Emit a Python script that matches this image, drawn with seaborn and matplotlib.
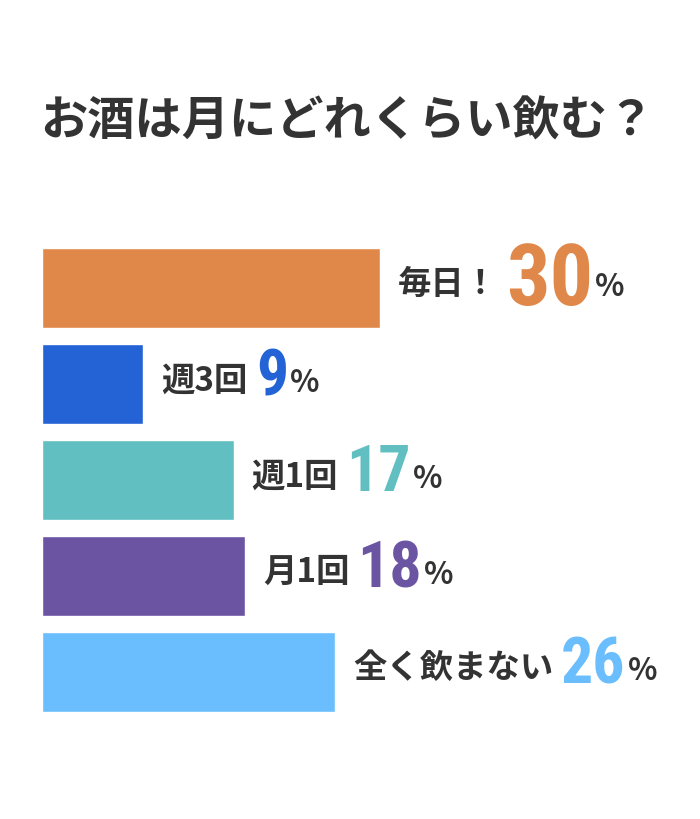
import matplotlib
matplotlib.use("Agg")
import matplotlib.pyplot as plt
import seaborn as sns
import pandas as pd

categories = ["毎日！", "週3回", "週1回", "月1回", "全く飲まない"]
values = [30, 9, 17, 18, 26]
colors = ["#E0884A", "#2363D6", "#62BFC1", "#6B55A3", "#6BBEFD"]
title = "お酒は月にどれくらい飲む？"

sns.set_theme(style="white")
plt.rcParams['font.family'] = ['Noto Sans CJK JP', 'DejaVu Sans']

fig = plt.figure(figsize=(7, 8.2), dpi=100)
W, H = 700, 820
ax = fig.add_axes([42 / W, 1 - 721 / H, (700 - 42) / W, (721 - 241) / H])
df = pd.DataFrame({"cat": categories, "val": values})
sns.barplot(data=df, x="val", y="cat", hue="cat", palette=colors, legend=False,
            width=0.833, saturation=1, ax=ax)
ax.set_xlim(0, 658 / (338 / 30))
ax.set_ylim(4.5, -0.5)
ax.axis("off")

fig.text(40 / W, 1 - 122 / H, title, fontsize=34, fontweight="bold", color="#333333",
         va="center", ha="left")

fig.canvas.draw()
r = fig.canvas.get_renderer()
for i, (c, v, col) in enumerate(zip(categories, values, colors)):
    big = 62 if i == 0 else 46
    t1 = ax.annotate(c, (v, i), xytext=(13, 3), textcoords="offset points",
                     fontsize=24, fontweight="bold", color="#333333", va="center", ha="left")
    bb = t1.get_window_extent(r)
    t2 = fig.text(bb.x1 / W + 8 / W, (bb.y0 + bb.y1) / 2 / H + 3 / H, str(v), fontsize=big,
                  fontweight="bold", color=col, va="center", ha="left",
                  family=["Roboto Condensed", "Roboto", "DejaVu Sans"], fontstretch="condensed")
    bb2 = t2.get_window_extent(r)
    fig.text(bb2.x1 / W + 2 / W, (bb.y0 - 2) / H, "%", fontsize=22, fontweight="bold",
             color="#333333", va="bottom", ha="left")

fig.savefig("out.png", dpi=100, facecolor="white")
